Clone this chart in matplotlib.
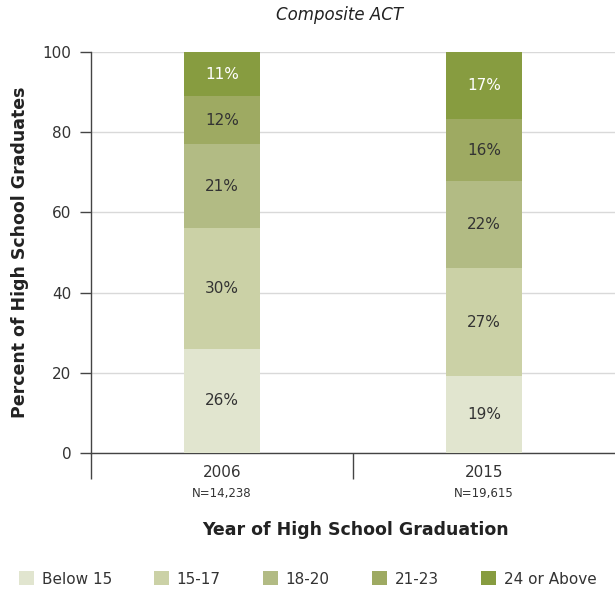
import matplotlib.pyplot as plt
import matplotlib.transforms as mtransforms
import numpy as np

plt.rcParams['font.family'] = ['DejaVu Sans']

years = ['2006', '2015']
counts = ['N=14,238', 'N=19,615']
bands = ['Below 15', '15-17', '18-20', '21-23', '24 or Above']
# percent of graduates in each score band, per year
pct_2006 = [26, 30, 21, 12, 11]
pct_2015 = [19.2, 26.9, 21.7, 15.5, 16.7]
colors = ['#e1e5cf', '#cbd1a6', '#b2bb84', '#9eaa62', '#879c40']
text_colors = ['#333333', '#333333', '#333333', '#333333', 'white']

fig = plt.figure(figsize=(6.15, 5.92), dpi=100)
ax = fig.add_axes([91/615, 1 - 453/592, 1 - 91/615, (453 - 52)/592])

x = np.arange(len(years))
data = np.array([pct_2006, pct_2015]).T
bottom = np.zeros(len(years))
for i, band in enumerate(bands):
    ax.bar(x, data[i], 0.29, bottom=bottom, color=colors[i], label=band, zorder=3)
    for j in range(len(years)):
        ax.text(x[j], bottom[j] + data[i][j] / 2, '%d%%' % round(data[i][j]),
                ha='center', va='center', fontsize=11, color=text_colors[i], zorder=4)
    bottom += data[i]

ax.set_xlim(-0.5, 1.5)
ax.set_ylim(0, 100)
ax.set_yticks([0, 20, 40, 60, 80, 100])
ax.tick_params(axis='y', length=8, width=1, color='#444444', labelsize=11, labelcolor='#333333', pad=6)
ax.yaxis.grid(True, color='#d9d9d9', linewidth=1, zorder=0)
ax.set_axisbelow(True)

ax.set_xticks(x)
ax.set_xticklabels(['', ''])
ax.tick_params(axis='x', which='major', length=0)
ax.set_xticks([-0.5, 0.5], minor=True)
ax.tick_params(axis='x', which='minor', length=19, width=1, color='#444444')

trans = mtransforms.blended_transform_factory(ax.transData, ax.transAxes)
for j in range(len(years)):
    ax.text(x[j], -0.03, years[j], transform=trans, ha='center', va='top', fontsize=11, color='#333333')
    ax.text(x[j], -0.085, counts[j], transform=trans, ha='center', va='top', fontsize=8.5, color='#333333')

for s in ['top', 'right']:
    ax.spines[s].set_visible(False)
for s in ['left', 'bottom']:
    ax.spines[s].set_color('#444444')
    ax.spines[s].set_linewidth(1)

fig.text(340/615, 1 - 15/592, 'Composite ACT', ha='center', va='center', fontsize=12, style='italic', color='#222222')
fig.text(20/615, 1 - 252/592, 'Percent of High School Graduates', ha='center', va='center', rotation=90,
         fontsize=12.5, fontweight='bold', color='#222222')
fig.text(356/615, 1 - 530/592, 'Year of High School Graduation', ha='center', va='center',
         fontsize=12.5, fontweight='bold', color='#222222')

leg = fig.legend(loc='center', bbox_to_anchor=(0.5, 1 - 579/592), ncol=5, frameon=False,
                 fontsize=11, handlelength=1.0, handleheight=1.0, handletextpad=0.5,
                 columnspacing=2.75, labelcolor='#333333')

fig.savefig('out.png', dpi=100)
